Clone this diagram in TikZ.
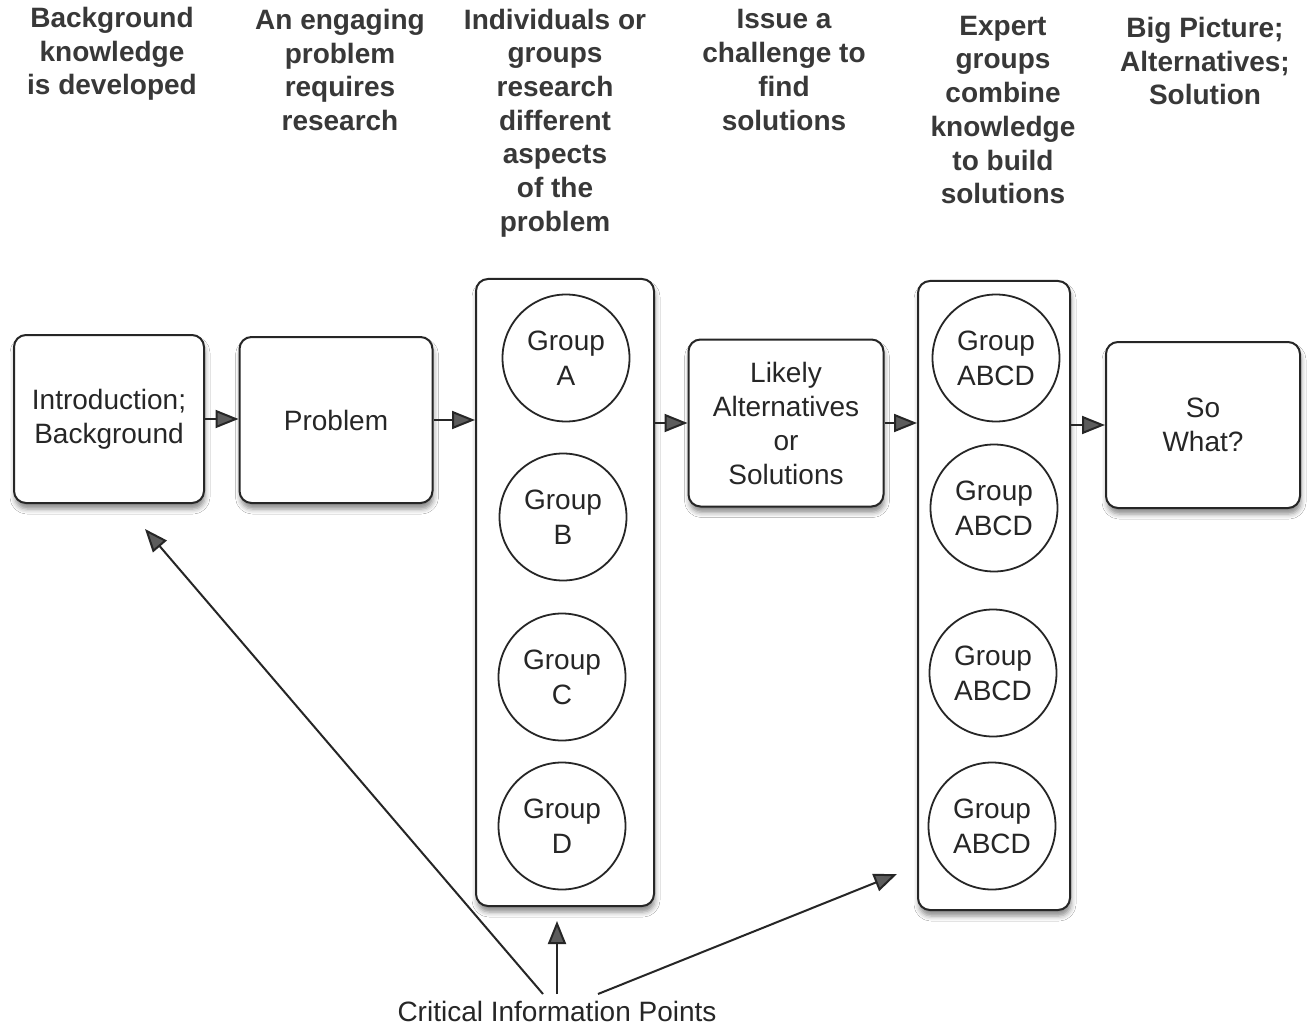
\documentclass[tikz,border=0pt]{standalone}
\usepackage{fontspec}
\setmainfont{Liberation Sans}
\usetikzlibrary{arrows.meta,shadows.blur}
\definecolor{ink}{HTML}{262626}
\definecolor{headink}{HTML}{383838}
\definecolor{tipfill}{HTML}{5C5C5C}

\begin{document}
\begin{tikzpicture}[x=1pt,y=-1pt,
  boxtext/.style={text=ink, font=\fontsize{28}{34}\selectfont, align=center},
  box/.style={boxtext, draw=ink, line width=2pt, rounded corners=12pt, fill=white, inner sep=0pt,
    blur shadow={shadow xshift=1pt, shadow yshift=-6pt, shadow blur radius=5pt, shadow opacity=45}},
  column/.style={box, text=ink},
  grp/.style={boxtext, draw=ink, line width=1.8pt, circle, fill=white, minimum size=127pt, inner sep=0pt,
    font=\fontsize{28}{35}\selectfont},
  head/.style={text=headink, font=\bfseries\fontsize{28}{33.7}\selectfont, align=center, inner sep=0pt},
  arr/.style={draw=ink, line width=2pt, -{Triangle[length=23pt,width=18pt,fill=tipfill]}}
]
\useasboundingbox[fill=white] (0,0) rectangle (1307,1027);

% column headings
\node[head] (h1) at (112,54) {Background\\knowledge\\is developed};
\node[head] (h2) at (340,70) {An engaging\\problem\\requires\\research};
\node[head] (h3) at (555,123) {Individuals or\\groups\\research\\different\\aspects\\of the\\problem};
\node[head] (h4) at (784,70) {Issue a\\challenge to\\find\\solutions};
\node[head] (h5) at (1003,110) {Expert\\groups\\combine\\knowledge\\to build\\solutions};
\node[head] (h6) at (1205,61) {Big Picture;\\Alternatives;\\Solution};

% process boxes
\node[box, minimum width=190pt, minimum height=168pt] (intro) at (109,419) {Introduction;\\Background};
\node[box, minimum width=193pt, minimum height=166pt] (problem) at (336,420) {Problem};
\node[column, minimum width=178pt, minimum height=627pt] (colA) at (565,592.5) {};
\node[box, minimum width=195pt, minimum height=167pt] (likely) at (786,423) {Likely\\Alternatives\\or\\Solutions};
\node[column, minimum width=152pt, minimum height=629pt] (colB) at (994,595.5) {};
\node[box, minimum width=194pt, minimum height=166pt] (sowhat) at (1203,425) {So\\What?};

% research groups
\node[grp] (ga) at (566,358) {Group\\A};
\node[grp] (gb) at (563,517) {Group\\B};
\node[grp] (gc) at (562,677) {Group\\C};
\node[grp] (gd) at (562,826) {Group\\D};

% expert groups
\node[grp] (ea) at (996,358) {Group\\ABCD};
\node[grp] (eb) at (994,508) {Group\\ABCD};
\node[grp] (ec) at (993,673) {Group\\ABCD};
\node[grp] (ed) at (992,826) {Group\\ABCD};

% flow arrows
\draw[arr] (intro.east) -- (intro.east -| problem.west);
\draw[arr] (problem.east) -- (problem.east -| colA.west);
\draw[arr] (likely.west -| colA.east) -- (likely.west);
\draw[arr] (likely.east) -- (likely.east -| colB.west);
\draw[arr] (sowhat.west -| colB.east) -- (sowhat.west);

% critical information points
\node[boxtext, inner sep=0pt] (cip) at (557,1011) {Critical Information Points};
\coordinate (tipintro) at (145,529);
\coordinate (tipcolA) at (557,921);
\coordinate (tipcolB) at (897,874);
\coordinate (srcleft) at (543,994);
\coordinate (srcmid) at (557,994);
\coordinate (srcright) at (598,994);
\draw[arr] (srcleft) -- (tipintro);
\draw[arr] (srcmid) -- (tipcolA);
\draw[arr] (srcright) -- (tipcolB);
\end{tikzpicture}
\end{document}
